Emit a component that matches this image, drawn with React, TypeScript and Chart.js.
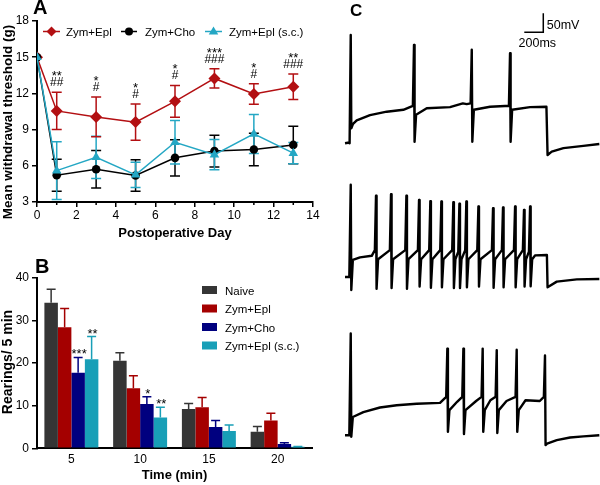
import React, { useEffect, useRef } from 'react';
import { Chart, registerables } from 'chart.js';

Chart.register(...registerables);

const FONT = "'Liberation Sans', Arial, Helvetica, sans-serif";

// ---------------- Panel A data ----------------
const days = [0, 1, 3, 5, 7, 9, 11, 13];
const namesA = ['Zym+Epl', 'Zym+Cho', 'Zym+Epl (s.c.)'];
const eplMean = [15, 10.55, 10.05, 9.62, 11.34, 13.24, 11.96, 12.55];
const eplErr = [0, 1.55, 1.65, 1.5, 1.32, 0.8, 0.85, 1.05];
const choMean = [15, 5.22, 5.72, 5.2, 6.66, 7.22, 7.35, 7.73];
const choErr = [0, 1.33, 1.55, 1.3, 1.5, 1.32, 1.35, 1.55];
const scMean = [15, 5.6, 6.7, 5.25, 7.95, 6.92, 8.64, 7.05];
const scErr = [0, 2.4, 1.75, 1.05, 1.8, 1.25, 1.62, 0.88];
const starsA = ['', '**', '*', '*', '*', '***', '*', '**'];
const hashesA = ['', '##', '#', '#', '#', '###', '#', '###'];
const xTicksA = [0, 2, 4, 6, 8, 10, 12, 14];
const yTicksA = [3, 6, 9, 12, 15, 18];

// ---------------- Panel B data ----------------
const timeLabels = ['5', '10', '15', '20'];
const namesB = ['Naive', 'Zym+Epl', 'Zym+Cho', 'Zym+Epl (s.c.)'];
const naiveVals = [34.1, 20.5, 9.2, 3.9];
const naiveErr = [3.2, 1.9, 1.3, 1.2];
const eplVals = [28.4, 14.1, 9.6, 6.5];
const eplErrB = [4.4, 2.9, 2.3, 1.7];
const choVals = [17.7, 10.4, 5.0, 1.0];
const choErrB = [3.6, 1.7, 1.5, 0.3];
const scVals = [20.9, 7.2, 4.05, 0.35];
const scErrB = [5.3, 2.4, 1.4, 0.1];
const starsBCho = ['***', '*', '', ''];
const starsBSc = ['**', '**', '', ''];

// ---------------- Panel C data (time ms, voltage mV rel. to rest) ----------------
type Pt = [number, number];
type Spike = [number, number, number, number, number]; // time, pre, peak, trough, post
const trace1Slow: Pt[] = [[0, 0], [45, 2], [123, 60], [263, 74], [439, 83], [614, 88], [860, 92], [1105, 95], [1240, 105], [1281, 103], [1527, 96], [1684, 98], [1947, 95], [2120, 96], [2132, -31], [2176, -22], [2299, -13], [2509, -7], [2677, -2]];
const trace1Spikes: Spike[] = [[60, 0, 285, 39, 50], [726, 98, 259, 4, 75], [1334, 105, 246, 4, 88], [1737, 98, 237, 4, 88]];
const trace2Slow: Pt[] = [[0, 3], [45, 3], [158, 55], [281, 59], [2000, 60], [2125, 61], [2132, -24], [2229, -9], [2440, -3], [2677, -2]];
const trace2Spikes: Spike[] = [[60, 3, 246, -31, 48], [326, 74, 217, -28, 50], [484, 74, 221, -26, 50], [646, 74, 217, -28, 50], [779, 74, 206, -22, 50], [898, 74, 203, -25, 50], [1014, 74, 202, -24, 50], [1140, 74, 200, -26, 50], [1204, 70, 196, -26, 50], [1277, 74, 202, -24, 50], [1404, 74, 189, -22, 50], [1558, 74, 184, -25, 50], [1663, 74, 186, -24, 50], [1790, 74, 189, -24, 50], [1884, 74, 180, -22, 50], [1948, 70, 189, -21, 50]];
const trace3Slow: Pt[] = [[0, 0], [45, 0], [193, 61], [368, 73], [544, 79], [754, 83], [1000, 85], [1180, 88], [1380, 90], [1530, 92], [1700, 90], [1900, 92], [2050, 90], [2229, -13], [2369, -6], [2509, -3], [2677, 0]];
const trace3Spikes: Spike[] = [[60, 0, 268, -4, 48], [1077, 101, 228, 9, 66], [1246, 101, 228, 3, 66], [1449, 101, 228, 9, 66], [1597, 101, 224, 6, 66], [1807, 101, 225, 9, 66], [2105, 101, 210, -26, -22]];
const scaleBarMs = 200;
const scaleBarMv = 50;

const RED = '#b30f12';
const BLACK = '#000000';
const CYAN = '#24a7c4';
const GRAY_B = '#353535';
const RED_B = '#a40000';
const NAVY_B = '#00007f';
const CYAN_B = '#189fb7';

function buildTrace(slow: Pt[], spikes: Spike[]) {
  const pts: { x: number; y: number }[] = slow.map(([t, v]) => ({ x: t, y: v }));
  spikes.forEach(([t, pre, peak, trough, post]) => {
    pts.push({ x: t - 12, y: pre }, { x: t, y: peak }, { x: t + 6, y: trough }, { x: t + 22, y: post });
  });
  pts.sort((a, b) => a.x - b.x);
  return pts;
}

function errBar(ctx: CanvasRenderingContext2D, x: number, yTop: number, yBot: number, cap: number, color: string, both: boolean) {
  ctx.strokeStyle = color;
  ctx.lineWidth = 1.5;
  ctx.beginPath();
  ctx.moveTo(x, yBot);
  ctx.lineTo(x, yTop);
  ctx.moveTo(x - cap, yTop);
  ctx.lineTo(x + cap, yTop);
  if (both) {
    ctx.moveTo(x - cap, yBot);
    ctx.lineTo(x + cap, yBot);
  }
  ctx.stroke();
}

function marker(ctx: CanvasRenderingContext2D, kind: string, x: number, y: number, r: number, color: string) {
  ctx.fillStyle = color;
  ctx.beginPath();
  if (kind === 'diamond') {
    ctx.moveTo(x - r, y); ctx.lineTo(x, y - r); ctx.lineTo(x + r, y); ctx.lineTo(x, y + r);
  } else if (kind === 'circle') {
    ctx.arc(x, y, r, 0, Math.PI * 2);
  } else {
    ctx.moveTo(x, y - r); ctx.lineTo(x + r * 0.95, y + r * 0.6); ctx.lineTo(x - r * 0.95, y + r * 0.6);
  }
  ctx.closePath();
  ctx.fill();
}

const axisCommon = {
  grid: { drawOnChartArea: false, drawTicks: true, tickLength: 5, color: '#000', lineWidth: 1.5 },
  border: { display: true, color: '#000', width: 2 },
};

function makeA(): any {
  const mk = (vals: number[]) => days.map((d, i) => ({ x: d, y: vals[i] }));
  const plugin = {
    id: 'panelA',
    beforeDatasetsDraw(chart: any) {
      const { ctx, scales: { x, y } } = chart;
      ctx.save();
      const sets: [number[], number[], string][] = [[choMean, choErr, BLACK], [scMean, scErr, CYAN], [eplMean, eplErr, RED]];
      sets.forEach(([m, e, c]) => {
        days.forEach((d, i) => {
          if (!e[i]) return;
          errBar(ctx, x.getPixelForValue(d), y.getPixelForValue(m[i] + e[i]), y.getPixelForValue(m[i] - e[i]), 5, c, true);
        });
      });
      ctx.restore();
    },
    afterDraw(chart: any) {
      const { ctx, scales: { x, y }, chartArea } = chart;
      ctx.save();
      // minor ticks
      ctx.strokeStyle = '#000';
      ctx.lineWidth = 1.5;
      ctx.beginPath();
      for (let d = 1; d < 14; d += 2) {
        const px = x.getPixelForValue(d);
        ctx.moveTo(px, chartArea.bottom);
        ctx.lineTo(px, chartArea.bottom + 3);
      }
      ctx.stroke();
      // significance marks
      ctx.fillStyle = '#000';
      ctx.textAlign = 'center';
      ctx.textBaseline = 'alphabetic';
      days.forEach((d, i) => {
        if (!starsA[i]) return;
        const px = x.getPixelForValue(d);
        const top = y.getPixelForValue(eplMean[i] + eplErr[i]);
        ctx.font = `12px ${FONT}`;
        ctx.fillText(hashesA[i], px, top - 6);
        ctx.font = `13px ${FONT}`;
        ctx.fillText(starsA[i], px, top - 12);
      });
      // legend
      const ly = 31.5;
      const items: [number, number, number, string, string, number][] = [
        [43, 60, 66, 'diamond', RED, 5],
        [121, 137, 145, 'circle', BLACK, 4],
        [205, 222, 229, 'tri', CYAN, 5],
      ];
      items.forEach(([x0, x1, tx, kind, c, r], i) => {
        ctx.strokeStyle = c;
        ctx.lineWidth = 1.5;
        ctx.beginPath();
        ctx.moveTo(x0, ly); ctx.lineTo(x1, ly);
        ctx.stroke();
        marker(ctx, kind, (x0 + x1) / 2, ly, r, c);
        ctx.fillStyle = '#000';
        ctx.font = `11.5px ${FONT}`;
        ctx.textAlign = 'left';
        ctx.fillText(namesA[i], tx, ly + 4);
      });
      // titles
      ctx.fillStyle = '#000';
      ctx.font = `bold 20px ${FONT}`;
      ctx.textAlign = 'left';
      ctx.fillText('A', 33, 14);
      ctx.font = `bold 13px ${FONT}`;
      ctx.textAlign = 'center';
      ctx.fillText('Postoperative Day', (chartArea.left + chartArea.right) / 2, 236.5);
      ctx.translate(8, 122);
      ctx.rotate(-Math.PI / 2);
      ctx.font = `bold 13.5px ${FONT}`;
      ctx.textBaseline = 'middle';
      ctx.fillText('Mean withdrawal threshold (g)', 0, 0);
      ctx.restore();
    },
  };
  return {
    type: 'line',
    data: {
      datasets: [
        { label: namesA[0], data: mk(eplMean), borderColor: RED, backgroundColor: RED, borderWidth: 1.5, pointStyle: 'rectRot', pointRadius: 6, pointBorderWidth: 0, pointBackgroundColor: RED, order: 2 },
        { label: namesA[1], data: mk(choMean), borderColor: BLACK, backgroundColor: BLACK, borderWidth: 1.5, pointStyle: 'circle', pointRadius: 4.3, pointBorderWidth: 0, pointBackgroundColor: BLACK, order: 1 },
        { label: namesA[2], data: mk(scMean), borderColor: CYAN, backgroundColor: CYAN, borderWidth: 1.5, pointStyle: 'triangle', pointRadius: 5.5, pointBorderWidth: 0, pointBackgroundColor: CYAN, order: 0 },
      ],
    },
    options: {
      responsive: false,
      animation: false,
      events: [],
      layout: { padding: { top: 21, right: 17, left: 0, bottom: 0 } },
      plugins: { legend: { display: false }, tooltip: { enabled: false } },
      scales: {
        x: {
          type: 'linear', min: 0, max: 14,
          afterBuildTicks: (s: any) => { s.ticks = xTicksA.map((v) => ({ value: v })); },
          ticks: { color: '#000', font: { family: FONT, size: 12 }, padding: 1, autoSkip: false, maxRotation: 0 },
          ...axisCommon,
          afterFit: (s: any) => { s.height = 38; },
        },
        y: {
          type: 'linear', min: 3, max: 18,
          afterBuildTicks: (s: any) => { s.ticks = yTicksA.map((v) => ({ value: v })); },
          ticks: { color: '#000', font: { family: FONT, size: 12 }, padding: 3 },
          ...axisCommon,
          afterFit: (s: any) => { s.width = 37; },
        },
      },
    },
    plugins: [plugin],
  };
}

function makeB(): any {
  const vals = [naiveVals, eplVals, choVals, scVals];
  const errs = [naiveErr, eplErrB, choErrB, scErrB];
  const cols = [GRAY_B, RED_B, NAVY_B, CYAN_B];
  const plugin = {
    id: 'panelB',
    afterDatasetsDraw(chart: any) {
      const { ctx, scales: { y } } = chart;
      ctx.save();
      vals.forEach((v, di) => {
        const meta = chart.getDatasetMeta(di);
        v.forEach((val, i) => {
          const bx = meta.data[i].x;
          errBar(ctx, bx, y.getPixelForValue(val + errs[di][i]), y.getPixelForValue(val), 4.5, cols[di], false);
        });
      });
      ctx.fillStyle = '#000';
      ctx.textAlign = 'center';
      ctx.textBaseline = 'alphabetic';
      ctx.font = `13px ${FONT}`;
      const marks: [number, string[]][] = [[2, starsBCho], [3, starsBSc]];
      marks.forEach(([di, arr]) => {
        const meta = chart.getDatasetMeta(di);
        arr.forEach((s, i) => {
          if (!s) return;
          const top = y.getPixelForValue(vals[di][i] + errs[di][i]);
          ctx.fillText(s, meta.data[i].x + 1, top + 1);
        });
      });
      ctx.restore();
    },
    afterDraw(chart: any) {
      const { ctx, chartArea } = chart;
      ctx.save();
      // legend
      namesB.forEach((n, i) => {
        const top = 46 + i * 18.5;
        ctx.fillStyle = cols[i];
        ctx.fillRect(202, top, 15, 8);
        ctx.fillStyle = '#000';
        ctx.font = `11.5px ${FONT}`;
        ctx.textAlign = 'left';
        ctx.textBaseline = 'alphabetic';
        ctx.fillText(n, 225, top + 8.5);
      });
      ctx.fillStyle = '#000';
      ctx.font = `bold 20px ${FONT}`;
      ctx.textAlign = 'left';
      ctx.fillText('B', 35, 33);
      ctx.font = `bold 13px ${FONT}`;
      ctx.textAlign = 'center';
      ctx.fillText('Time (min)', (chartArea.left + chartArea.right) / 2, 239);
      ctx.translate(8, 122);
      ctx.rotate(-Math.PI / 2);
      ctx.font = `bold 14px ${FONT}`;
      ctx.textBaseline = 'middle';
      ctx.fillText('Rearings/ 5 min', 0, 0);
      ctx.restore();
    },
  };
  return {
    type: 'bar',
    data: {
      labels: timeLabels,
      datasets: namesB.map((n, i) => ({ label: n, data: vals[i], backgroundColor: cols[i], borderWidth: 0, categoryPercentage: 0.785, barPercentage: 1 })),
    },
    options: {
      responsive: false,
      animation: false,
      events: [],
      layout: { padding: { top: 37.7, right: 18, left: 0, bottom: 0 } },
      plugins: { legend: { display: false }, tooltip: { enabled: false } },
      scales: {
        x: {
          ticks: { color: '#000', font: { family: FONT, size: 12 }, padding: 4 },
          grid: { display: false, drawTicks: false },
          border: { display: true, color: '#000', width: 2 },
          afterFit: (s: any) => { s.height = 36.7; },
        },
        y: {
          min: 0, max: 40,
          ticks: { stepSize: 10, color: '#000', font: { family: FONT, size: 12 }, padding: 3 },
          ...axisCommon,
          afterFit: (s: any) => { s.width = 37; },
        },
      },
    },
    plugins: [plugin],
  };
}

function makeTrace(slow: Pt[], spikes: Spike[], withBar: boolean): any {
  const barX = 2087;
  const barY = 292;
  const datasets: any[] = [
    { data: buildTrace(slow, spikes), borderColor: '#000', borderWidth: 2.4, pointRadius: 0, tension: 0, borderJoinStyle: 'round', fill: false },
  ];
  if (withBar) {
    datasets.push({ data: [{ x: barX - scaleBarMs, y: barY }, { x: barX, y: barY }, { x: barX, y: barY + scaleBarMv }], borderColor: '#000', borderWidth: 1.5, pointRadius: 0, tension: 0, fill: false });
  }
  const plugin = {
    id: 'traceText',
    afterDraw(chart: any) {
      if (!withBar) return;
      const { ctx, scales: { x, y } } = chart;
      ctx.save();
      ctx.fillStyle = '#000';
      ctx.font = `bold 17px ${FONT}`;
      ctx.textAlign = 'left';
      ctx.textBaseline = 'alphabetic';
      ctx.fillText('C', 10, 16);
      ctx.font = `12.5px ${FONT}`;
      ctx.textBaseline = 'middle';
      ctx.fillText(`${scaleBarMv}mV`, x.getPixelForValue(barX) + 3.5, y.getPixelForValue(barY + scaleBarMv / 2) + 3);
      ctx.textAlign = 'center';
      ctx.fillText(`${scaleBarMs}ms`, x.getPixelForValue(barX - scaleBarMs / 2) + 3.5, y.getPixelForValue(barY) + 11.5);
      ctx.restore();
    },
  };
  return {
    type: 'line',
    data: { datasets },
    options: {
      responsive: false,
      animation: false,
      events: [],
      layout: { padding: 0 },
      plugins: { legend: { display: false }, tooltip: { enabled: false } },
      scales: {
        x: { type: 'linear', display: false, min: -53, max: 2684 },
        y: { type: 'linear', display: false, min: -110, max: 377 },
      },
    },
    plugins: [plugin],
  };
}

function ChartBox({ left, top, width, height, make }: { left: number; top: number; width: number; height: number; make: () => any }) {
  const ref = useRef<HTMLCanvasElement>(null);
  useEffect(() => {
    const chart = new Chart(ref.current as HTMLCanvasElement, make());
    return () => chart.destroy();
  }, []);
  return <canvas ref={ref} width={width} height={height} style={{ position: 'absolute', left, top, width, height }} />;
}

export default function App() {
  return (
    <div style={{ position: 'fixed', left: 0, top: 0, width: 600, height: 485, background: '#fff', overflow: 'hidden' }}>
      <ChartBox left={0} top={0} width={330} height={240} make={makeA} />
      <ChartBox left={0} top={240} width={330} height={245} make={makeB} />
      <ChartBox left={340} top={0} width={260} height={185} make={() => makeTrace(trace1Slow, trace1Spikes, true)} />
      <ChartBox left={340} top={135} width={260} height={185} make={() => makeTrace(trace2Slow, trace2Spikes, false)} />
      <ChartBox left={340} top={292} width={260} height={185} make={() => makeTrace(trace3Slow, trace3Spikes, false)} />
    </div>
  );
}
